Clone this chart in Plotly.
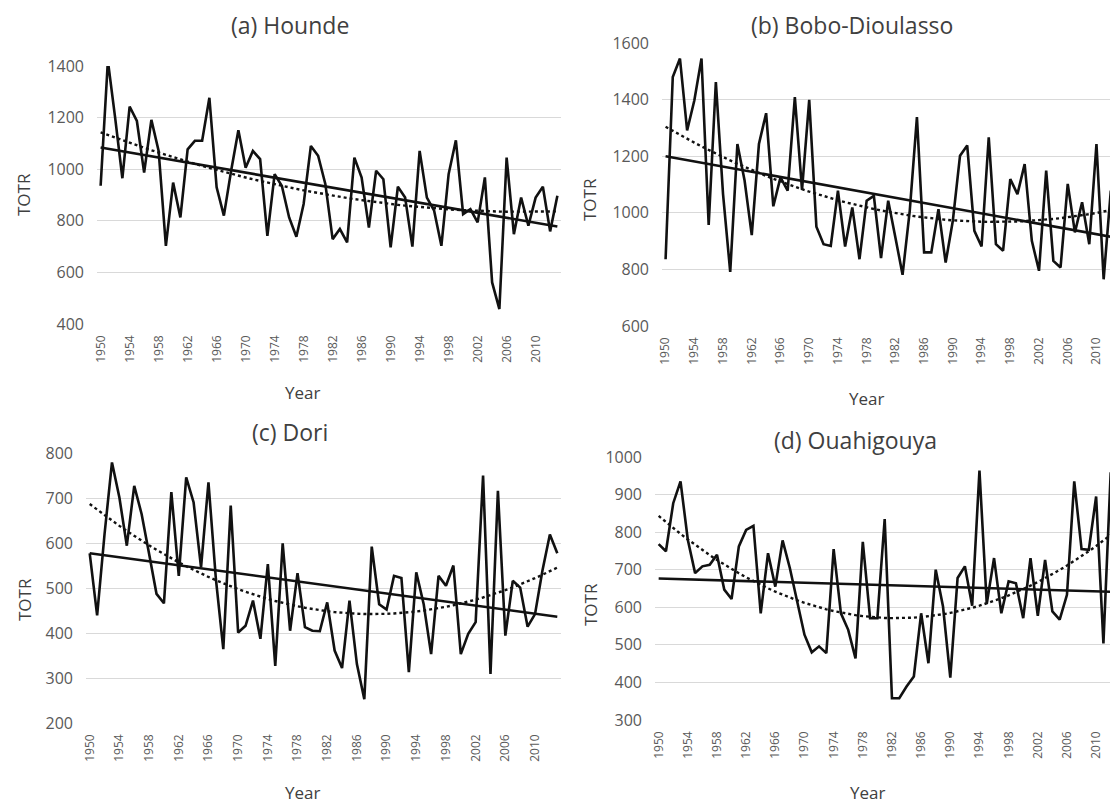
import numpy as np
import plotly.graph_objects as go

years = list(range(1950, 2014))

hounde = [936, 1420, 1200, 965, 1243, 1187, 987, 1191, 1071, 703,
          948, 813, 1077, 1110, 1110, 1277, 930, 820, 994, 1151,
          1006, 1071, 1039, 742, 981, 935, 813, 738, 865, 1090,
          1052, 942, 729, 768, 716, 1045, 968, 774, 994, 961,
          697, 932, 890, 700, 1071, 890, 839, 703, 981, 1112,
          826, 845, 794, 968, 561, 458, 1045, 748, 890, 781,
          890, 932, 759, 897]

bobo = [836, 1480, 1545, 1291, 1397, 1545, 957, 1462, 1066, 791,
        1243, 1114, 921, 1243, 1352, 1023, 1125, 1078, 1409, 1081,
        1399, 951, 889, 883, 1078, 881, 1019, 836, 1043, 1060,
        840, 1043, 913, 781, 1007, 1338, 860, 860, 1013, 824,
        972, 1202, 1238, 936, 881, 1267, 889, 866, 1119, 1066,
        1172, 901, 795, 1149, 830, 807, 1102, 931, 1037, 889,
        1243, 765, 1078, 930]

dori = [577, 439, 620, 779, 701, 594, 727, 664, 576, 487,
        466, 713, 527, 746, 690, 546, 735, 520, 364, 683,
        401, 416, 472, 387, 553, 327, 599, 405, 533, 413,
        405, 404, 468, 361, 322, 472, 331, 253, 592, 464,
        452, 527, 522, 313, 535, 464, 353, 527, 505, 550,
        353, 398, 424, 750, 309, 716, 394, 516, 501, 414,
        442, 539, 619, 577]

ouahigouya = [768, 749, 877, 935, 780, 691, 709, 713, 740, 647,
              622, 762, 806, 817, 584, 744, 655, 778, 704, 611,
              527, 480, 496, 478, 755, 584, 540, 464, 774, 571,
              571, 835, 358, 358, 389, 416, 584, 451, 700, 602,
              413, 678, 709, 604, 964, 609, 731, 584, 669, 664,
              571, 731, 577, 726, 589, 567, 633, 935, 755, 753,
              895, 504, 959, 709]

titles = ["(a) Hounde", "(b) Bobo-Dioulasso", "(c) Dori", "(d) Ouahigouya"]
series = [hounde, bobo, dori, ouahigouya]
y_ranges = [[400, 1400], [600, 1600], [200, 800], [300, 1000]]
y_dtick = [200, 200, 100, 100]
x_tick_vals = list(range(1950, 2011, 4))

# the page places the figure 8 px in from the top-left corner (body margin)
OFF = 8
W, H = 1118 - OFF, 805 - OFF


def px(x):
    return (x - OFF) / W


def py(y):
    return 1 - (y - OFF) / H


# plot-area boxes in screen pixels: (left, right, top, bottom)
boxes = [(97, 561, 66, 324), (662, 1118, 43, 326), (86, 561, 453, 723), (655, 1118, 457, 720)]
x_ranges = [[1949.5, 2013.5], [1949.5, 2013.0], [1949.5, 2013.5], [1949.5, 2013.0]]

FONT = "Open Sans"
TICK_COL = "#595959"
TXT_COL = "#404040"

fig = go.Figure()
yrs = np.array(years, dtype=float)
for k, vals in enumerate(series):
    ax = "" if k == 0 else str(k + 1)
    v = np.array(vals, dtype=float)
    lin = np.polyval(np.polyfit(yrs, v, 1), yrs)
    quad = np.polyval(np.polyfit(yrs, v, 2), yrs)
    fig.add_trace(go.Scatter(x=years, y=vals, mode="lines",
                             line=dict(color="#111111", width=2.6),
                             xaxis="x" + ax, yaxis="y" + ax, showlegend=False))
    fig.add_trace(go.Scatter(x=years, y=quad, mode="lines",
                             line=dict(color="#111111", width=2.4, dash="dot"),
                             xaxis="x" + ax, yaxis="y" + ax, showlegend=False))
    fig.add_trace(go.Scatter(x=years, y=lin, mode="lines",
                             line=dict(color="#111111", width=2.6),
                             xaxis="x" + ax, yaxis="y" + ax, showlegend=False))

layout = dict(width=W, height=H, margin=dict(l=0, r=0, t=0, b=0, autoexpand=False),
              template="none",
              paper_bgcolor="white", plot_bgcolor="white", showlegend=False)

for k in range(4):
    l, r, t, b = boxes[k]
    ax = "" if k == 0 else str(k + 1)
    layout["xaxis" + ax] = dict(
        domain=[max(0, px(l)), min(1, px(r))], range=x_ranges[k], anchor="y" + ax, automargin=False,
        tickmode="array", tickvals=x_tick_vals, ticktext=[str(v) for v in x_tick_vals],
        tickangle=-90, showgrid=False, zeroline=False, showline=False, ticks="",
        tickfont=dict(family=FONT, size=12, color=TICK_COL), ticklabelstandoff=8)
    layout["yaxis" + ax] = dict(
        domain=[py(b), py(t)], range=y_ranges[k], anchor="x" + ax, automargin=False,
        dtick=y_dtick[k], tick0=0, showgrid=True, gridcolor="#d9d9d9", gridwidth=1.2,
        zeroline=False, showline=False, ticks="",
        tickfont=dict(family=FONT, size=16, color=TICK_COL), ticklabelstandoff=12)

layout["annotations"] = []
title_pos = [(290, 25), (852, 25), (290, 432), (855, 440)]
ytitle_pos = [(24, 195), (590, 200), (24, 600), (590, 605)]
xtitle_pos = [(302, 392), (866, 398), (302, 792), (867, 792)]
for k in range(4):
    tx, ty = title_pos[k]
    layout["annotations"].append(dict(text=titles[k], x=px(tx), y=py(ty), xref="paper", yref="paper",
                                      showarrow=False, xanchor="center", yanchor="middle",
                                      font=dict(family=FONT, size=23, color=TXT_COL)))
    yx, yy = ytitle_pos[k]
    layout["annotations"].append(dict(text="TOTR", x=px(yx), y=py(yy), xref="paper", yref="paper",
                                      showarrow=False, xanchor="center", yanchor="middle", textangle=-90,
                                      font=dict(family=FONT, size=17, color=TXT_COL)))
    xx, xy = xtitle_pos[k]
    layout["annotations"].append(dict(text="Year", x=px(xx), y=py(xy), xref="paper", yref="paper",
                                      showarrow=False, xanchor="center", yanchor="middle",
                                      font=dict(family=FONT, size=17, color=TXT_COL)))

fig.update_layout(**layout)
fig.write_html("out.html")
